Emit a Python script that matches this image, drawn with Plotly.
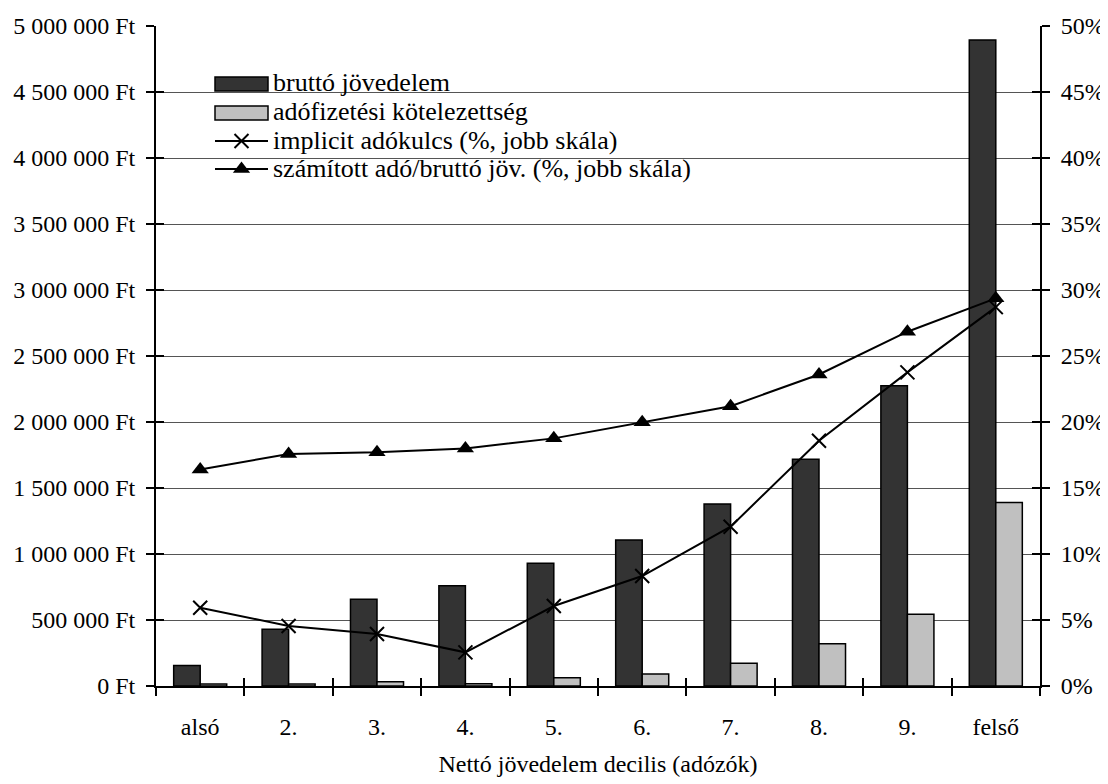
import plotly.graph_objects as go

categories = ["alsó", "2.", "3.", "4.", "5.", "6.", "7.", "8.", "9.", "felső"]
brutto_jovedelem = [155000, 430000, 657000, 760000, 930000, 1107000, 1379000, 1717000, 2275000, 4894000]
adofizetesi_kot = [15000, 15000, 32000, 17000, 63000, 91000, 172000, 320000, 543000, 1390000]
implicit_adokulcs = [5.93, 4.55, 3.94, 2.55, 6.06, 8.33, 12.07, 18.58, 23.76, 28.7]
szamitott_ado = [16.4, 17.58, 17.7, 18.0, 18.76, 19.98, 21.2, 23.6, 26.84, 29.37]

left_ticks = list(range(0, 5000001, 500000))
left_ticktext = [f"{v:,}".replace(",", " ") + " Ft" for v in left_ticks]
right_ticks = list(range(0, 51, 5))
right_ticktext = [f"{v}%" for v in right_ticks]

legend_labels = ["bruttó jövedelem", "adófizetési kötelezettség",
                 "implicit adókulcs (%, jobb skála)",
                 "számított adó/bruttó jöv. (%, jobb skála)"]

FONT = "Liberation Serif"
DARK = "#333333"
LIGHT = "#c0c0c0"

# plot area geometry in page pixels (for converting legend layout to paper coords)
W, H = 1100, 776
ML, MR, MT, MB = 148, 68, 18, 98
PW, PH = W - ML - MR, H - MT - MB
OFF = 8  # page body margin


def px(x):
    return (x - ML - OFF) / PW


def py(y):
    return (MT + OFF + PH - y) / PH


# category boundaries (for the inner half of the cross-style x ticks)
n_cat = len(categories)
cat_bounds = [i - 0.5 for i in range(n_cat + 1)]

fig = go.Figure()
fig.add_trace(go.Bar(
    x=categories, y=brutto_jovedelem, name=legend_labels[0], showlegend=False,
    marker=dict(color=DARK, line=dict(color="black", width=1.5)),
))
fig.add_trace(go.Bar(
    x=categories, y=adofizetesi_kot, name=legend_labels[1], showlegend=False,
    marker=dict(color=LIGHT, line=dict(color="black", width=1.5)),
))
x_marker = dict(symbol="x-thin", size=14, color="black", line=dict(color="black", width=2))
tri_marker = dict(symbol="triangle-up", size=15, color="black")
fig.add_trace(go.Scatter(
    x=categories, y=implicit_adokulcs, name=legend_labels[2], showlegend=False,
    yaxis="y2", mode="lines+markers",
    line=dict(color="black", width=2), marker=x_marker,
))
fig.add_trace(go.Scatter(
    x=categories, y=szamitott_ado, name=legend_labels[3], showlegend=False,
    yaxis="y2", mode="lines+markers",
    line=dict(color="black", width=2), marker=tri_marker,
))

# empty helper traces so the inner-tick overlay axes get drawn
fig.add_trace(go.Scatter(x=[], y=[], xaxis="x4", yaxis="y", showlegend=False, hoverinfo="skip"))
fig.add_trace(go.Scatter(x=[], y=[], xaxis="x", yaxis="y4", showlegend=False, hoverinfo="skip"))
fig.add_trace(go.Scatter(x=[], y=[], xaxis="x", yaxis="y5", showlegend=False, hoverinfo="skip"))

# ---- custom legend (wide swatches like the original) ----
row_y = [84, 113, 141, 169]
sx0, sx1 = 215, 268
shapes = [dict(type="rect", xref="paper", yref="paper", layer="between",
               x0=px(188), x1=px(708), y0=py(186), y1=py(62),
               fillcolor="white", line=dict(width=0))]
for i, col in enumerate([DARK, LIGHT]):
    shapes.append(dict(type="rect", xref="paper", yref="paper", layer="above",
                       x0=px(sx0), x1=px(sx1), y0=py(row_y[i] + 7), y1=py(row_y[i] - 7),
                       fillcolor=col, line=dict(color="black", width=1.5)))
for i in (2, 3):
    shapes.append(dict(type="line", xref="paper", yref="paper", layer="above",
                       x0=px(sx0), x1=px(sx1), y0=py(row_y[i]), y1=py(row_y[i]),
                       line=dict(color="black", width=2)))
fig.add_trace(go.Scatter(
    x=[(px(sx0) + px(sx1)) / 2], y=[py(row_y[2])], xaxis="x3", yaxis="y3",
    mode="markers", marker=x_marker, showlegend=False, hoverinfo="skip"))
fig.add_trace(go.Scatter(
    x=[(px(sx0) + px(sx1)) / 2], y=[py(row_y[3])], xaxis="x3", yaxis="y3",
    mode="markers", marker=tri_marker, showlegend=False, hoverinfo="skip"))
annotations = [dict(xref="paper", yref="paper", x=px(271), y=py(row_y[i] - 1),
                    xanchor="left", yanchor="middle", showarrow=False,
                    text=t, font=dict(family=FONT, size=26, color="black"))
               for i, t in enumerate(legend_labels)]

inner_tick = dict(ticks="inside", ticklen=8, tickwidth=1.5, tickcolor="black",
                  showticklabels=False, showline=False, showgrid=False,
                  zeroline=False, automargin=False, fixedrange=True)

fig.update_layout(
    template="none",
    width=W, height=H,
    margin=dict(l=ML, r=MR, t=MT, b=MB, autoexpand=False),
    paper_bgcolor="white", plot_bgcolor="white",
    font=dict(family=FONT, size=24, color="black"),
    barmode="group", bargap=0.4, bargroupgap=0,
    showlegend=False,
    shapes=shapes, annotations=annotations,
    xaxis=dict(
        type="category", automargin=False,
        showline=True, linecolor="black", linewidth=2,
        ticks="outside", ticklen=8, tickwidth=1.5, tickcolor="black",
        tickson="boundaries",
        showgrid=False,
        ticklabelstandoff=18,
        tickfont=dict(family=FONT, size=24),
        title=dict(text="Nettó jövedelem decilis (adózók)", standoff=16,
                   font=dict(family=FONT, size=24)),
        range=[-0.5, 9.5],
    ),
    yaxis=dict(
        range=[0, 5000000], automargin=False,
        tickmode="array", tickvals=left_ticks, ticktext=left_ticktext,
        tickfont=dict(family=FONT, size=24),
        showline=True, linecolor="black", linewidth=2,
        ticks="outside", ticklen=8, tickwidth=1.5, tickcolor="black",
        showgrid=True, gridcolor="#555555", gridwidth=1,
        zeroline=False,
        ticklabelstandoff=6,
    ),
    yaxis2=dict(
        range=[0, 50], overlaying="y", side="right", automargin=False,
        tickmode="array", tickvals=right_ticks, ticktext=right_ticktext,
        tickfont=dict(family=FONT, size=24),
        showline=True, linecolor="black", linewidth=2,
        ticks="outside", ticklen=8, tickwidth=1.5, tickcolor="black",
        showgrid=False, zeroline=False,
        ticklabelstandoff=6,
    ),
    xaxis3=dict(overlaying="x", range=[0, 1], visible=False, anchor="y3", automargin=False),
    yaxis3=dict(overlaying="y", range=[0, 1], visible=False, anchor="x3", automargin=False),
    # inner halves of the cross-style tick marks
    xaxis4=dict(type="linear", overlaying="x", anchor="y", side="bottom", range=[-0.5, n_cat - 0.5],
                tickmode="array", tickvals=cat_bounds, **inner_tick),
    yaxis4=dict(type="linear", overlaying="y", anchor="x", side="left", range=[0, 5000000],
                tickmode="array", tickvals=left_ticks, **inner_tick),
    yaxis5=dict(type="linear", overlaying="y", anchor="x", side="right", range=[0, 50],
                tickmode="array", tickvals=right_ticks, **inner_tick),
)

fig.write_html("out.html")
